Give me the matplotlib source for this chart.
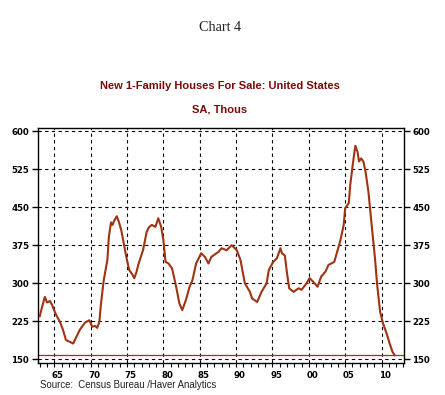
import matplotlib
matplotlib.use("Agg")
import matplotlib.pyplot as plt
import numpy as np
from matplotlib.ticker import MultipleLocator, FixedLocator

years = [1963.0, 1963.3, 1963.7, 1964.0, 1964.4, 1964.7, 1965.2, 1965.8, 1966.2, 1966.6,
         1967.2, 1967.6, 1968.0, 1968.5, 1969.2, 1969.8, 1970.0, 1970.2, 1970.6, 1970.9,
         1971.2, 1971.4, 1971.8, 1972.3, 1972.5, 1972.8, 1973.0, 1973.3, 1973.6, 1973.9,
         1974.2, 1974.6, 1974.9, 1975.3, 1975.7, 1976.0, 1976.3, 1976.6, 1977.2, 1977.7,
         1978.0, 1978.4, 1978.9, 1979.3, 1979.7, 1980.0, 1980.3, 1980.7, 1981.2, 1981.8,
         1982.2, 1982.6, 1983.1, 1983.6, 1984.0, 1984.5, 1985.2, 1985.7, 1986.2, 1986.6,
         1987.1, 1987.6, 1988.0, 1988.7, 1989.4, 1990.1, 1990.6, 1991.2, 1991.9, 1992.2,
         1992.9, 1993.5, 1994.2, 1994.5, 1995.1, 1995.6, 1996.1, 1996.3, 1996.7, 1997.0,
         1997.3, 1997.9, 1998.6, 1999.0, 1999.7, 2000.1, 2000.6, 2001.2, 2001.7, 2002.3,
         2002.7, 2003.5, 2003.9, 2004.3, 2004.8, 2005.0, 2005.5, 2005.7, 2006.1, 2006.4,
         2006.7, 2006.9, 2007.2, 2007.5, 2007.8, 2008.2, 2008.6, 2009.1, 2009.4, 2009.8,
         2010.2, 2010.7, 2011.1, 2011.5, 2011.8]
houses_for_sale = [235, 252, 273, 262, 265, 257, 239, 223, 208, 188,
                   184, 181, 193, 208, 222, 227, 222, 214, 216, 212,
                   224, 257, 306, 346, 391, 420, 415, 425, 432, 420,
                   405, 375, 352, 326, 318, 310, 322, 339, 365, 401,
                   410, 415, 411, 428, 411, 385, 342, 339, 329, 290,
                   260, 247, 267, 293, 306, 339, 359, 352, 339, 352,
                   357, 362, 369, 365, 375, 365, 346, 300, 283, 270,
                   263, 283, 300, 326, 342, 349, 369, 359, 355, 320,
                   290, 283, 290, 287, 300, 310, 303, 293, 313, 323,
                   336, 342, 362, 382, 415, 448, 458, 494, 540, 571,
                   559, 540, 546, 540, 520, 480, 421, 349, 297, 244,
                   221, 201, 182, 165, 158]
latest_value = 158

grid_years = [1965, 1970, 1975, 1980, 1985, 1990, 1995, 2000, 2005, 2010]
year_labels = ["65", "70", "75", "80", "85", "90", "95", "00", "05", "10"]
y_ticks = [150, 225, 300, 375, 450, 525, 600]

line_color = "#9E3412"

fig = plt.figure(figsize=(4.45, 3.95), dpi=100)
ax = fig.add_axes([37.5/445, 1-362.7/395, (404-37.5)/445, (362.7-128)/395])

ax.plot(years, houses_for_sale, color=line_color, lw=1.5, zorder=3)
ax.axhline(latest_value, color=line_color, lw=0.9, zorder=2)

ax.set_xlim(1962.69, 2013.09)
ax.set_ylim(143.3, 606)

ax.xaxis.set_major_locator(FixedLocator(grid_years))
ax.xaxis.set_minor_locator(MultipleLocator(1))
ax.set_yticks(y_ticks)
ax.set_xticklabels([])
ax.grid(True, which="major", color="black", linestyle=(0, (3, 3)), lw=0.8)
ax.tick_params(axis="x", which="both", direction="out", length=3, width=0.8, labelbottom=False)
ax.tick_params(axis="y", which="both", direction="out", length=4, width=1,
               left=True, right=True, labelleft=True, labelright=True, pad=2)
for lab in ax.get_yticklabels():
    lab.set_fontsize(6.2)
    lab.set_fontweight("bold")
    lab.set_family("DejaVu Sans")
for s in ax.spines.values():
    s.set_linewidth(1.0)
    s.set_color("black")

sec = ax.secondary_xaxis("bottom")
sec.set_xticks([y + 0.5 for y in grid_years], year_labels)
sec.tick_params(length=0, pad=6)
sec.spines["bottom"].set_visible(False)
for lab in sec.get_xticklabels():
    lab.set_fontsize(6.2)
    lab.set_fontweight("bold")
    lab.set_family("DejaVu Sans")

fig.text(220/445, 1-27.5/395, "Chart 4", family="Liberation Serif", fontsize=10.2,
         color="#222222", ha="center", va="center")
fig.text(220/445, 1-86/395, "New 1-Family Houses For Sale: United States",
         family="Liberation Sans", fontweight="bold", fontsize=8, color="#7A0A0A",
         ha="center", va="center")
fig.text(220/445, 1-109/395, "SA, Thous", family="Liberation Sans", fontweight="bold",
         fontsize=8, color="#7A0A0A", ha="center", va="center")
fig.text(40/445, 1-385/395, "Source:  Census Bureau /Haver Analytics",
         family="Liberation Sans", fontsize=6.9, color="#222222", ha="left", va="center")

fig.savefig("out.png", dpi=100)
